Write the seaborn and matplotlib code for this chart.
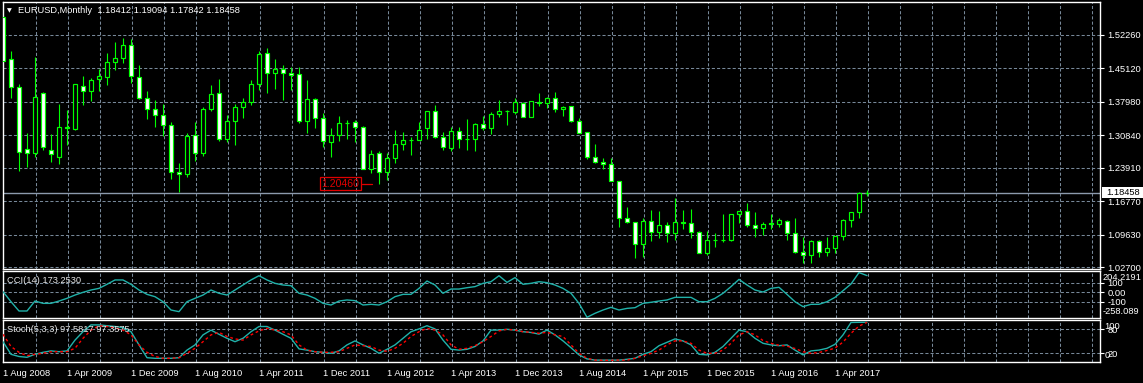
import numpy as np
import pandas as pd
import matplotlib
matplotlib.use("Agg")
import matplotlib.pyplot as plt
from matplotlib.patches import Rectangle
import seaborn as sns

# ---------------- data ----------------
months = pd.date_range("2008-08-01", "2017-08-01", freq="MS")

opens = [1.5610, 1.4706, 1.4108, 1.2784, 1.2699, 1.3980, 1.2780, 1.2627, 1.3254, 1.3225,
         1.4130, 1.4037, 1.4279, 1.4336, 1.4642, 1.4735, 1.5012, 1.4330, 1.3873, 1.3638,
         1.3510, 1.3297, 1.2307, 1.2250, 1.3083, 1.2699, 1.3638, 1.3980, 1.2998, 1.3382,
         1.3695, 1.3802, 1.4179, 1.4834, 1.4407, 1.4493, 1.4407, 1.4393, 1.3396, 1.3852,
         1.3446, 1.2948, 1.3083, 1.3339, 1.3361, 1.3254, 1.2371, 1.2699, 1.2307, 1.2592,
         1.2896, 1.2976, 1.2983, 1.3230, 1.3595, 1.3054, 1.2805, 1.3168, 1.2998, 1.3005,
         1.3318, 1.3233, 1.3531, 1.3595, 1.3590, 1.3766, 1.3482, 1.3790, 1.3780, 1.3873,
         1.3638, 1.3709, 1.3396, 1.3147, 1.2627, 1.2520, 1.2463, 1.2115, 1.1310, 1.1225,
         1.0755, 1.1253, 1.1011, 1.1168, 1.1000, 1.1225, 1.1218, 1.1025, 1.0577, 1.0856,
         1.0845, 1.0856, 1.1396, 1.1467, 1.1160, 1.1110, 1.1200, 1.1196, 1.1246, 1.0990,
         1.0598, 1.0530, 1.0826, 1.0598, 1.0669, 1.0933, 1.1274, 1.1438, 1.18412]
highs = [1.5625, 1.4884, 1.4179, 1.3126, 1.4763, 1.4016, 1.3104, 1.3752, 1.3624, 1.4180,
         1.4350, 1.4300, 1.4493, 1.4849, 1.5076, 1.5162, 1.5145, 1.4585, 1.4030, 1.3838,
         1.3745, 1.3370, 1.2485, 1.3126, 1.3375, 1.3681, 1.4158, 1.4286, 1.3517, 1.3752,
         1.3873, 1.4265, 1.4891, 1.4948, 1.4706, 1.4585, 1.4549, 1.4549, 1.4265, 1.3870,
         1.3567, 1.3233, 1.3496, 1.3410, 1.3410, 1.3283, 1.2770, 1.2747, 1.2713, 1.3197,
         1.3144, 1.3040, 1.3361, 1.3595, 1.3731, 1.3161, 1.3268, 1.3254, 1.3424, 1.3345,
         1.3496, 1.3588, 1.3838, 1.3621, 1.3887, 1.3790, 1.3825, 1.3994, 1.3905, 1.4009,
         1.3709, 1.3709, 1.3444, 1.3160, 1.2898, 1.2600, 1.2592, 1.2115, 1.1559, 1.1240,
         1.1310, 1.1488, 1.1467, 1.1225, 1.1737, 1.1488, 1.1509, 1.1040, 1.1040, 1.1004,
         1.1403, 1.1410, 1.1460, 1.1630, 1.1438, 1.1225, 1.1403, 1.1324, 1.1274, 1.1324,
         1.0905, 1.0840, 1.0840, 1.0918, 1.0940, 1.1288, 1.1450, 1.1865, 1.19094]
lows = [1.4640, 1.3887, 1.2328, 1.2400, 1.2620, 1.2770, 1.2520, 1.2463, 1.2876, 1.3200,
        1.3731, 1.3823, 1.4037, 1.4165, 1.4478, 1.4621, 1.4208, 1.3860, 1.3432, 1.3268,
        1.3069, 1.2150, 1.1880, 1.2200, 1.2542, 1.2649, 1.3600, 1.2969, 1.2933, 1.2884,
        1.3446, 1.3731, 1.4051, 1.3980, 1.4073, 1.3838, 1.4051, 1.3353, 1.3140, 1.3233,
        1.2827, 1.2627, 1.2969, 1.3005, 1.2948, 1.2360, 1.2285, 1.2046, 1.2129, 1.2493,
        1.2776, 1.2663, 1.2983, 1.3005, 1.3030, 1.2770, 1.2756, 1.2805, 1.2776, 1.2756,
        1.3197, 1.3110, 1.3482, 1.3297, 1.3547, 1.3470, 1.3476, 1.3709, 1.3672, 1.3588,
        1.3500, 1.3366, 1.3130, 1.2570, 1.2500, 1.2358, 1.2115, 1.1118, 1.1210, 1.0470,
        1.0491, 1.0833, 1.0897, 1.0798, 1.0848, 1.1090, 1.0896, 1.0560, 1.0520, 1.0705,
        1.0810, 1.0822, 1.1215, 1.1118, 1.0912, 1.0945, 1.1090, 1.1118, 1.0847, 1.0570,
        1.0355, 1.0355, 1.0490, 1.0505, 1.0570, 1.0855, 1.1118, 1.1310, 1.17842]
closes = [1.4672, 1.4108, 1.2734, 1.2699, 1.3895, 1.2827, 1.2677, 1.3254, 1.3236, 1.4170,
          1.4037, 1.4265, 1.4350, 1.4642, 1.4735, 1.5012, 1.4343, 1.3873, 1.3638, 1.3510,
          1.3297, 1.2307, 1.2250, 1.3069, 1.2699, 1.3638, 1.3966, 1.2998, 1.3382, 1.3695,
          1.3802, 1.4179, 1.4820, 1.4407, 1.4493, 1.4407, 1.4372, 1.3396, 1.3852, 1.3446,
          1.2969, 1.3083, 1.3339, 1.3353, 1.3254, 1.2371, 1.2678, 1.2307, 1.2592, 1.2896,
          1.2976, 1.2983, 1.3190, 1.3595, 1.3054, 1.2827, 1.3168, 1.2998, 1.3005, 1.3318,
          1.3233, 1.3531, 1.3595, 1.3603, 1.3788, 1.3482, 1.3809, 1.3780, 1.3873, 1.3638,
          1.3690, 1.3396, 1.3140, 1.2627, 1.2520, 1.2463, 1.2115, 1.1310, 1.1225, 1.0755,
          1.1253, 1.1011, 1.1168, 1.1000, 1.1225, 1.1210, 1.1025, 1.0577, 1.0856, 1.0845,
          1.0856, 1.1396, 1.1460, 1.1160, 1.1110, 1.1196, 1.1190, 1.1268, 1.0990, 1.0598,
          1.0530, 1.0826, 1.0598, 1.0669, 1.0933, 1.1274, 1.1438, 1.1841, 1.18458]

cci = [7, -97, -193, -193, -90, -114, -114, -90, -62, -28,
       0, 24, 41, 83, 128, 128, 83, 24, -21, -45,
       -97, -183, -200, -97, -62, -28, 24, -10, -28, 24,
       76, 128, 172, 128, 93, 76, 69, -10, -28, -62,
       -114, -131, -90, -79, -86, -131, -124, -131, -97, -45,
       -21, -21, 41, 117, 76, -10, 34, 34, 48, 59,
       93, 110, 172, 103, 152, 83, 93, 110, 100, 76,
       41, -10, -114, -258.089, -217, -183, -155, -183, -166, -159,
       -114, -103, -90, -79, -52, -52, -52, -97, -97, -62,
       -10, 59, 134, 76, 24, 3, 41, 52, -21, -97,
       -148, -124, -124, -97, -52, 17, 86, 204.2191, 173.2530]

stoch_main = [49, 17.5, 12, 10, 17.5, 22.5, 26, 24, 26, 53,
              74, 91, 91, 89, 87, 84, 74, 41, 9, 7.5,
              7.5, 7.5, 9, 28, 41, 66, 78, 67.5, 57.5, 49,
              57.5, 74, 87, 87, 78, 67.5, 57.5, 31, 28, 24,
              22.5, 20, 26, 41, 51, 41, 32.5, 20, 30, 41,
              57.5, 74, 81, 89, 81, 53, 30, 28, 30, 37,
              51, 78, 78, 80, 78, 74, 72, 68, 78, 66,
              51, 34, 16, 6, 3, 3, 3, 3, 5, 7.5,
              17.5, 24, 39, 47.5, 56, 51, 41, 17.5, 16, 22.5,
              37, 57.5, 78, 74, 57.5, 45, 41, 39, 41, 28,
              16, 26, 28, 32.5, 42.5, 66, 97, 97.5, 97.5817]
stoch_signal = [67.5, 37, 22.5, 14, 17.5, 20, 24, 24, 24, 32.5,
                57.5, 78, 89, 87, 84, 78, 66, 41, 22.5, 12,
                7.5, 7.5, 9, 20, 32.5, 49, 66, 72.5, 62, 56,
                53, 66, 76, 82.5, 78, 74, 66, 41, 28, 24,
                22.5, 22.5, 24, 32.5, 41, 39, 37, 28, 25, 32.5,
                45, 62, 74, 82.5, 78, 66, 41, 30, 32.5, 39,
                49, 62, 76, 80, 78, 74, 72.5, 70, 72.5, 66,
                62, 41, 20, 7.5, 3, 2.5, 2.5, 3, 3, 7.5,
                14, 20, 28, 41, 51, 51, 45, 28, 20, 20,
                28, 45, 66, 74, 66, 52, 45, 40, 38, 32,
                24, 20, 22, 27, 33, 48, 70, 88, 97.3575]

price_grid = [1.52260, 1.45120, 1.37980, 1.30840, 1.23910, 1.16770, 1.09630, 1.02700]
price_labels = ["1.52260", "1.45120", "1.37980", "1.30840", "1.23910", "1.16770", "1.09630", "1.02700"]
cci_levels = [100, 0, -100]
cci_level_labels = ["100", "0.00", "-100"]
stoch_levels = [80, 20]
stoch_level_labels = ["80", "20"]
date_tick_idx = [0, 8, 16, 24, 32, 40, 48, 56, 64, 72, 80, 88, 96, 104]
date_labels = ["1 Aug 2008", "1 Apr 2009", "1 Dec 2009", "1 Aug 2010", "1 Apr 2011",
               "1 Dec 2011", "1 Aug 2012", "1 Apr 2013", "1 Dec 2013", "1 Aug 2014",
               "1 Apr 2015", "1 Dec 2015", "1 Aug 2016", "1 Apr 2017"]
title_text = "EURUSD,Monthly  1.18412 1.19094 1.17842 1.18458"
last_price = 1.18458
marked_low = 1.20460

# ---------------- style ----------------
sns.set_style("dark")
plt.rcParams["font.family"] = ["Liberation Sans", "DejaVu Sans"]
plt.rcParams["axes.unicode_minus"] = False

W, H = 1143, 383
BG = "black"
GRID = "#778899"
LIME = "#00FF00"
SEA = "#20B2AA"
FS = 6.7

fig = plt.figure(figsize=(W / 100, H / 100), dpi=100, facecolor=BG)

def fx(x):
    return x / W

def fy(y):
    return 1 - y / H

L_PX, R_PX = 2.7, 1100.0
def make_ax(top, bottom):
    ax = fig.add_axes([fx(L_PX), fy(bottom), (R_PX - L_PX) / W, (bottom - top) / H])
    ax.set_facecolor(BG)
    for s in ax.spines.values():
        s.set_color("white")
        s.set_linewidth(1.0)
    ax.set_xlim((L_PX - 3) / 8, (R_PX - 3) / 8)
    ax.grid(False)
    return ax

ax_main = make_ax(2.0, 268.5)
ax_cci = make_ax(271.0, 317.7)
ax_sto = make_ax(320.3, 361.7)

px_per = 0.0021362
def price_at(y):
    return 1.5226 - (y - 35) * px_per
ax_main.set_ylim(price_at(268.5), price_at(2.0))
ax_cci.set_ylim((292.33 - 317.7) / 0.09667, (292.33 - 271.0) / 0.09667)
ax_sto.set_ylim(80 - (361.7 - 329.3) / 0.4, 80 - (320.3 - 329.3) / 0.4)

dash = (0, (3, 2))
vgrid = [4.125 + 4 * k for k in range(34)]
for ax in (ax_main, ax_cci, ax_sto):
    for xv in vgrid:
        ax.axvline(xv, color=GRID, lw=0.75, ls=dash, zorder=0.5)
for pv in price_grid:
    ax_main.axhline(pv, color=GRID, lw=0.75, ls=dash, zorder=0.5)
for lv in cci_levels:
    ax_cci.axhline(lv, color=GRID, lw=0.75, ls=dash, zorder=0.5)
for lv in stoch_levels:
    ax_sto.axhline(lv, color=GRID, lw=0.75, ls=dash, zorder=0.5)

# ---------------- candles ----------------
idx = np.arange(len(months))
o = np.array(opens); h = np.array(highs); l = np.array(lows); c = np.array(closes)
ax_main.vlines(idx, l, h, color=LIME, lw=0.8, zorder=2)
bottoms = np.minimum(o, c)
heights = np.abs(c - o)
fills = ["white" if cc < oo else "black" for oo, cc in zip(o, c)]
ax_main.bar(idx, heights, bottom=bottoms, width=0.52, color=fills,
            edgecolor=LIME, linewidth=0.85, zorder=3)

ax_main.axhline(last_price, color="#8C9AAD", lw=1.0, zorder=1.5)

lx = (340.5 - 3) / 8
ax_main.text(lx, marked_low, "1.20460", color="#E00000", fontsize=7.6,
             ha="center", va="center", zorder=5,
             bbox=dict(boxstyle="square,pad=0.15", facecolor="none",
                       edgecolor="#E00000", linewidth=0.9))
ax_main.plot([(361.7 - 3) / 8, (371.7 - 3) / 8], [marked_low, marked_low],
             color="#E00000", lw=0.9, zorder=5)

# ---------------- indicators (seaborn) ----------------
df = pd.DataFrame({"i": idx, "cci": cci, "main": stoch_main, "signal": stoch_signal})
sns.lineplot(data=df, x="i", y="cci", ax=ax_cci, color=SEA, linewidth=1.0,
             estimator=None, sort=False, legend=False, zorder=3)
sns.lineplot(data=df, x="i", y="main", ax=ax_sto, color=SEA, linewidth=1.0,
             estimator=None, sort=False, legend=False, zorder=3)
sns.lineplot(data=df, x="i", y="signal", ax=ax_sto, color="#FF0000", linewidth=1.0,
             linestyle=(0, (2, 2)), estimator=None, sort=False, legend=False, zorder=4)

for ax in (ax_main, ax_cci, ax_sto):
    ax.set_xlabel("")
    ax.set_ylabel("")
    ax.set_xlim((L_PX - 3) / 8, (R_PX - 3) / 8)

# ---------------- ticks / labels ----------------
def right_ticks(ax, vals, labs):
    ax.yaxis.tick_right()
    ax.set_yticks(vals)
    ax.set_yticklabels(labs)
    ax.tick_params(axis="y", colors="white", length=3, width=0.8, pad=2.5,
                   labelsize=FS, labelcolor="white")

right_ticks(ax_main, price_grid, price_labels)
right_ticks(ax_cci, cci_levels, cci_level_labels)
right_ticks(ax_sto, stoch_levels, stoch_level_labels)
for ax in (ax_main, ax_cci):
    ax.set_xticks([])

ax_sto.set_xticks(date_tick_idx)
ax_sto.set_xticklabels(date_labels, ha="left")
ax_sto.tick_params(axis="x", colors="white", length=3, width=0.8, pad=2,
                   labelsize=FS, labelcolor="white")

def ftext(x, y, s, **kw):
    fig.text(fx(x), fy(y), s, va="center", ha="left", color="white",
             fontsize=FS, **kw)

ftext(1103, 277.7, "204.2191")
ftext(1103, 311.7, "-258.089")
ftext(1104.5, 326.5, "100")
ftext(1104.5, 355.5, "0")

fig.patches.append(Rectangle((fx(1101.7), fy(197.7)), (1143 - 1101.7) / W, 11 / H,
                             transform=fig.transFigure, facecolor="white",
                             edgecolor="none", zorder=5))
fig.text(fx(1106.5), fy(192.2), "1.18458", color="black", va="center", ha="left",
         fontsize=FS, zorder=6)

fig.text(fx(9.7), fy(10.5), "\u25BC", color="white", fontsize=4.5, ha="center",
         va="center", family="DejaVu Sans")
fig.text(fx(18), fy(10.5), title_text, color="white", fontsize=FS, ha="left", va="center")
fig.text(fx(7), fy(280.7), "CCI(14) 173.2530", color="#E6E6E6", fontsize=FS,
         ha="left", va="center")
fig.text(fx(7), fy(330.0), "Stoch(5,3,3) 97.5817 97.3575", color="#E6E6E6",
         fontsize=FS, ha="left", va="center")

fig.savefig("out.png", dpi=100, facecolor=BG)
